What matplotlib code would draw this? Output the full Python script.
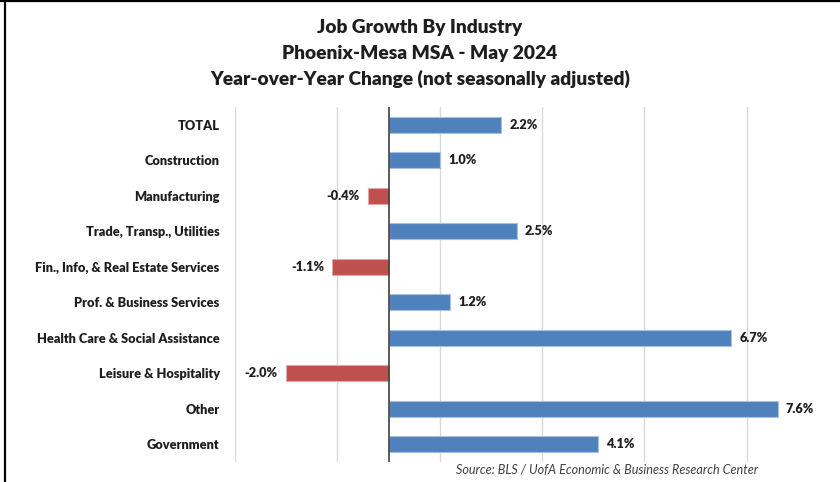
import matplotlib.pyplot as plt
from matplotlib.lines import Line2D

INDUSTRIES = [
    "TOTAL",
    "Construction",
    "Manufacturing",
    "Trade, Transp., Utilities",
    "Fin., Info, & Real Estate Services",
    "Prof. & Business Services",
    "Health Care & Social Assistance",
    "Leisure & Hospitality",
    "Other",
    "Government",
]
CHANGE_PCT = [2.2, 1.0, -0.4, 2.5, -1.1, 1.2, 6.7, -2.0, 7.6, 4.1]
GRID_TICKS = [-3, -1, 1, 3, 5, 7]

BLUE = "#4F81BD"
RED = "#C0504D"
TEXT = "#1E1E1E"

plt.rcParams["font.family"] = ["Lato", "DejaVu Sans"]

fig = plt.figure(figsize=(8.4, 4.82), dpi=100)
fig.patch.set_facecolor("white")

ax = fig.add_axes([235 / 840, 20 / 482, 605 / 840, 355 / 482])

y = list(range(len(INDUSTRIES)))
colors = [BLUE if v >= 0 else RED for v in CHANGE_PCT]
edges = ["#A9C1E0" if v >= 0 else "#E0A9A8" for v in CHANGE_PCT]
ax.barh(y, CHANGE_PCT, height=0.45, color=colors, edgecolor=edges,
        linewidth=0.8, zorder=3)

for yi, v in zip(y, CHANGE_PCT):
    ax.annotate(f"{v:.1f}%", xy=(v, yi),
                xytext=(6 if v >= 0 else -6, 0), textcoords="offset points",
                ha="left" if v >= 0 else "right", va="center",
                fontsize=9.2, fontweight="heavy", color=TEXT)

ax.set_xlim(-3, 8.82)
ax.set_ylim(len(INDUSTRIES) - 0.5, -0.5)
ax.set_xticks(GRID_TICKS)
ax.tick_params(axis="x", length=0, labelbottom=False)
ax.grid(axis="x", color="#D9D9D9", linewidth=1.0, zorder=0)
ax.axvline(0, color="#404040", linewidth=1.2, zorder=4)

ax.set_yticks(y)
ax.set_yticklabels(INDUSTRIES, fontsize=9.2, fontweight="heavy", color=TEXT)
ax.tick_params(axis="y", length=0, pad=11)
for s in ax.spines.values():
    s.set_visible(False)

title_lines = [
    (28, "Job Growth By Industry"),
    (53, "Phoenix-Mesa MSA - May 2024"),
    (79, "Year-over-Year Change (not seasonally adjusted)"),
]
for ypx, line in title_lines:
    fig.text(0.5, 1 - ypx / 482, line, ha="center", va="center",
             fontsize=13.8, fontweight="heavy", color=TEXT)

fig.text(758 / 840, 1 - 470 / 482,
         "Source: BLS / UofA Economic & Business Research Center",
         ha="right", va="center", fontsize=9.1, style="italic", color="#404040")

# frame lines along the left and top edges
fig.add_artist(Line2D([5 / 840, 5 / 840], [0, 1], color="black", linewidth=1.6,
                      transform=fig.transFigure))
fig.add_artist(Line2D([0, 1], [1 - 1 / 482, 1 - 1 / 482], color="black",
                      linewidth=1.6, transform=fig.transFigure))

fig.savefig("out.png", dpi=100, facecolor="white")
